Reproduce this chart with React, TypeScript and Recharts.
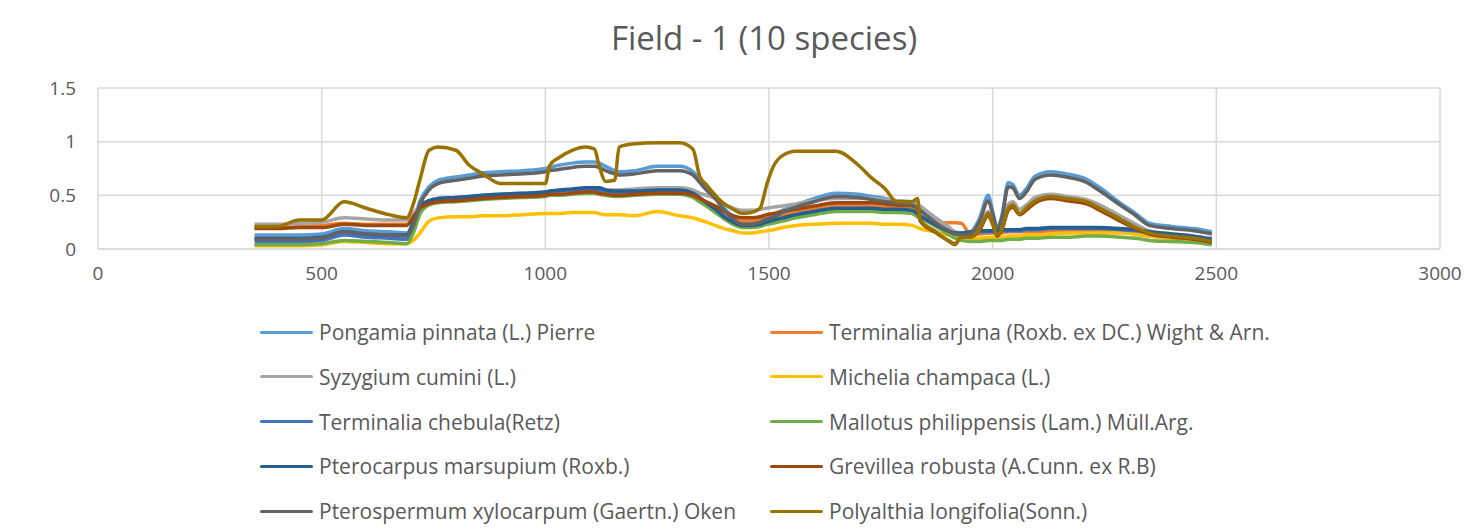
import { LineChart, Line, XAxis, YAxis, CartesianGrid } from 'recharts';

// wavelength (nm)
const wavelength = [
  350, 400, 450, 500, 550, 600, 650, 690, 705, 720, 740, 760, 800, 830, 860, 900, 950, 1000, 1010, 1030,
  1060, 1090, 1110, 1120, 1135, 1155, 1165, 1200, 1250, 1300, 1330, 1345, 1360, 1380, 1400, 1420, 1440, 1460, 1480, 1495,
  1510, 1530, 1560, 1600, 1650, 1700, 1730, 1760, 1785, 1820, 1832, 1838, 1870, 1900, 1916, 1930, 1950, 1970, 1990, 2000,
  2010, 2020, 2035, 2045, 2060, 2075, 2095, 2130, 2165, 2210, 2240, 2285, 2320, 2350, 2400, 2450, 2490,
];

const pongamia = [
  0.13, 0.13, 0.13, 0.14, 0.19, 0.17, 0.16, 0.15, 0.25, 0.45, 0.58, 0.64, 0.67, 0.69, 0.71, 0.72, 0.73, 0.75, 0.76, 0.78,
  0.8, 0.81, 0.81, 0.8, 0.77, 0.73, 0.72, 0.73, 0.77, 0.77, 0.72, 0.65, 0.58, 0.5, 0.38, 0.3, 0.25, 0.25, 0.27, 0.3,
  0.32, 0.36, 0.41, 0.47, 0.52, 0.51, 0.49, 0.47, 0.45, 0.43, 0.4, 0.38, 0.27, 0.19, 0.16, 0.15, 0.16, 0.28, 0.5, 0.35,
  0.2, 0.3, 0.62, 0.6, 0.5, 0.56, 0.68, 0.72, 0.7, 0.65, 0.57, 0.43, 0.33, 0.24, 0.21, 0.19, 0.16,
];
const arjuna = [
  0.2, 0.2, 0.21, 0.22, 0.24, 0.23, 0.23, 0.23, 0.31, 0.4, 0.44, 0.46, 0.47, 0.48, 0.49, 0.5, 0.51, 0.52, 0.53, 0.54,
  0.55, 0.55, 0.55, 0.55, 0.53, 0.52, 0.52, 0.53, 0.54, 0.54, 0.51, 0.47, 0.43, 0.38, 0.32, 0.28, 0.26, 0.26, 0.27, 0.29,
  0.3, 0.32, 0.35, 0.38, 0.41, 0.41, 0.4, 0.39, 0.38, 0.37, 0.35, 0.3, 0.25, 0.245, 0.245, 0.24, 0.14, 0.14, 0.15, 0.15,
  0.15, 0.15, 0.16, 0.16, 0.16, 0.16, 0.16, 0.17, 0.17, 0.17, 0.17, 0.16, 0.14, 0.12, 0.1, 0.09, 0.07,
];
const syzygium = [
  0.23, 0.23, 0.24, 0.25, 0.29, 0.28, 0.27, 0.27, 0.33, 0.41, 0.45, 0.47, 0.48, 0.49, 0.5, 0.51, 0.52, 0.53, 0.54, 0.54,
  0.55, 0.56, 0.56, 0.56, 0.55, 0.55, 0.55, 0.56, 0.57, 0.57, 0.55, 0.52, 0.5, 0.47, 0.42, 0.38, 0.36, 0.36, 0.37, 0.38,
  0.39, 0.4, 0.42, 0.45, 0.47, 0.47, 0.47, 0.46, 0.45, 0.44, 0.42, 0.4, 0.3, 0.21, 0.16, 0.15, 0.15, 0.2, 0.35, 0.27,
  0.16, 0.22, 0.42, 0.44, 0.37, 0.41, 0.48, 0.51, 0.49, 0.46, 0.41, 0.31, 0.23, 0.17, 0.14, 0.12, 0.1,
];
const michelia = [
  0.03, 0.03, 0.03, 0.04, 0.07, 0.06, 0.05, 0.05, 0.08, 0.15, 0.26, 0.29, 0.3, 0.3, 0.31, 0.31, 0.32, 0.33, 0.33, 0.33,
  0.34, 0.34, 0.34, 0.33, 0.32, 0.32, 0.32, 0.31, 0.35, 0.31, 0.29, 0.27, 0.25, 0.22, 0.19, 0.17, 0.15, 0.15, 0.16, 0.17,
  0.18, 0.2, 0.22, 0.23, 0.24, 0.24, 0.24, 0.23, 0.23, 0.22, 0.2, 0.19, 0.16, 0.13, 0.12, 0.11, 0.1, 0.1, 0.11, 0.11,
  0.11, 0.11, 0.12, 0.12, 0.12, 0.13, 0.13, 0.14, 0.15, 0.15, 0.15, 0.15, 0.14, 0.12, 0.1, 0.08, 0.06,
];
const chebula = [
  0.07, 0.07, 0.07, 0.08, 0.13, 0.11, 0.1, 0.09, 0.2, 0.38, 0.44, 0.46, 0.47, 0.48, 0.49, 0.5, 0.51, 0.52, 0.53, 0.54,
  0.55, 0.56, 0.56, 0.55, 0.54, 0.53, 0.53, 0.53, 0.54, 0.54, 0.51, 0.47, 0.42, 0.36, 0.29, 0.24, 0.21, 0.21, 0.22, 0.24,
  0.26, 0.28, 0.31, 0.34, 0.37, 0.37, 0.37, 0.36, 0.36, 0.35, 0.32, 0.3, 0.22, 0.16, 0.14, 0.14, 0.15, 0.16, 0.16, 0.16,
  0.16, 0.17, 0.17, 0.17, 0.17, 0.18, 0.18, 0.19, 0.19, 0.19, 0.19, 0.18, 0.17, 0.15, 0.13, 0.11, 0.08,
];
const mallotus = [
  0.04, 0.04, 0.04, 0.05, 0.08, 0.07, 0.06, 0.05, 0.15, 0.33, 0.41, 0.43, 0.44, 0.45, 0.46, 0.47, 0.48, 0.49, 0.5, 0.5,
  0.51, 0.52, 0.52, 0.51, 0.5, 0.49, 0.49, 0.5, 0.51, 0.51, 0.48, 0.44, 0.4, 0.34, 0.28, 0.23, 0.2, 0.2, 0.21, 0.23,
  0.24, 0.26, 0.29, 0.32, 0.35, 0.35, 0.35, 0.34, 0.34, 0.33, 0.3, 0.29, 0.22, 0.14, 0.1, 0.08, 0.07, 0.07, 0.08, 0.08,
  0.08, 0.08, 0.09, 0.09, 0.09, 0.1, 0.1, 0.11, 0.11, 0.12, 0.12, 0.11, 0.1, 0.08, 0.07, 0.06, 0.04,
];
const pterocarpus = [
  0.1, 0.1, 0.1, 0.11, 0.16, 0.14, 0.13, 0.13, 0.25, 0.4, 0.45, 0.47, 0.48, 0.49, 0.5, 0.51, 0.52, 0.53, 0.54, 0.55,
  0.56, 0.57, 0.57, 0.57, 0.55, 0.54, 0.54, 0.54, 0.55, 0.55, 0.52, 0.48, 0.43, 0.37, 0.3, 0.25, 0.22, 0.22, 0.23, 0.25,
  0.27, 0.29, 0.32, 0.35, 0.38, 0.38, 0.38, 0.37, 0.37, 0.36, 0.33, 0.31, 0.23, 0.17, 0.15, 0.15, 0.16, 0.17, 0.17, 0.17,
  0.17, 0.18, 0.18, 0.18, 0.18, 0.19, 0.19, 0.2, 0.2, 0.2, 0.2, 0.19, 0.18, 0.16, 0.14, 0.12, 0.09,
];
const grevillea = [
  0.19, 0.19, 0.2, 0.2, 0.23, 0.22, 0.22, 0.22, 0.3, 0.38, 0.42, 0.44, 0.45, 0.46, 0.47, 0.48, 0.49, 0.5, 0.51, 0.51,
  0.52, 0.53, 0.53, 0.52, 0.51, 0.5, 0.5, 0.51, 0.52, 0.52, 0.5, 0.47, 0.44, 0.4, 0.35, 0.31, 0.29, 0.29, 0.3, 0.32,
  0.33, 0.35, 0.37, 0.4, 0.43, 0.43, 0.43, 0.42, 0.41, 0.4, 0.38, 0.26, 0.16, 0.08, 0.05, 0.11, 0.11, 0.17, 0.31, 0.23,
  0.12, 0.17, 0.36, 0.39, 0.32, 0.36, 0.43, 0.47, 0.45, 0.42, 0.36, 0.26, 0.19, 0.14, 0.11, 0.09, 0.06,
];
const pterospermum = [
  0.09, 0.09, 0.09, 0.1, 0.16, 0.14, 0.13, 0.12, 0.22, 0.42, 0.55, 0.61, 0.64, 0.66, 0.68, 0.69, 0.7, 0.72, 0.73, 0.74,
  0.76, 0.77, 0.77, 0.76, 0.73, 0.7, 0.69, 0.7, 0.73, 0.73, 0.69, 0.62, 0.55, 0.47, 0.36, 0.28, 0.23, 0.23, 0.25, 0.28,
  0.3, 0.34, 0.39, 0.44, 0.49, 0.48, 0.46, 0.44, 0.43, 0.41, 0.38, 0.36, 0.25, 0.17, 0.14, 0.13, 0.14, 0.25, 0.45, 0.33,
  0.19, 0.28, 0.58, 0.57, 0.47, 0.53, 0.65, 0.69, 0.67, 0.62, 0.54, 0.41, 0.31, 0.22, 0.19, 0.17, 0.14,
];
const polyalthia = [
  0.21, 0.21, 0.27, 0.27, 0.44, 0.38, 0.32, 0.29, 0.42, 0.65, 0.92, 0.95, 0.92, 0.78, 0.7, 0.61, 0.61, 0.61, 0.78, 0.85,
  0.92, 0.95, 0.93, 0.78, 0.63, 0.64, 0.95, 0.98, 0.99, 0.99, 0.93, 0.68, 0.6, 0.5, 0.42, 0.37, 0.33, 0.34, 0.38, 0.6,
  0.77, 0.87, 0.91, 0.91, 0.91, 0.78, 0.66, 0.56, 0.44, 0.44, 0.47, 0.27, 0.17, 0.08, 0.04, 0.11, 0.11, 0.18, 0.33, 0.24,
  0.13, 0.18, 0.38, 0.41, 0.33, 0.38, 0.45, 0.49, 0.47, 0.44, 0.38, 0.28, 0.2, 0.15, 0.12, 0.1, 0.07,
];

const xTicks = [0, 500, 1000, 1500, 2000, 2500, 3000];
const yTicks = [0, 0.5, 1, 1.5];

const series = [
  { key: 'pongamia', name: 'Pongamia pinnata (L.) Pierre', color: '#5B9BD5', values: pongamia },
  { key: 'arjuna', name: 'Terminalia arjuna (Roxb. ex DC.) Wight & Arn.', color: '#ED7D31', values: arjuna },
  { key: 'syzygium', name: 'Syzygium cumini (L.)', color: '#A5A5A5', values: syzygium },
  { key: 'michelia', name: 'Michelia champaca (L.)', color: '#FFC000', values: michelia },
  { key: 'chebula', name: 'Terminalia chebula(Retz)', color: '#4472C4', values: chebula },
  { key: 'mallotus', name: 'Mallotus philippensis (Lam.) Müll.Arg.', color: '#70AD47', values: mallotus },
  { key: 'pterocarpus', name: 'Pterocarpus marsupium (Roxb.)', color: '#255E91', values: pterocarpus },
  { key: 'grevillea', name: 'Grevillea robusta (A.Cunn. ex R.B)', color: '#9E480E', values: grevillea },
  { key: 'pterospermum', name: 'Pterospermum xylocarpum (Gaertn.) Oken', color: '#636363', values: pterospermum },
  { key: 'polyalthia', name: 'Polyalthia longifolia(Sonn.)', color: '#997300', values: polyalthia },
];

const data = wavelength.map((x, i) => {
  const row: Record<string, number> = { x };
  series.forEach((s) => (row[s.key] = s.values[i]));
  return row;
});

const FONT = '"Open Sans", Lato, sans-serif';
const TXT = '#595959';

export default function App() {
  return (
    <div style={{ position: 'absolute', left: 0, top: 0, width: 1481, height: 530, background: '#fff', fontFamily: FONT }}>
      <div style={{ position: 'absolute', left: 0, top: 15, width: 1528, textAlign: 'center', fontSize: 33, lineHeight: '46px', color: TXT }}>
        Field - 1 (10 species)
      </div>
      <LineChart width={1481} height={530} data={data} margin={{ top: 88, right: 41, bottom: 251, left: 0 }}>
        <CartesianGrid stroke="#d9d9d9" strokeWidth={1.5} />
        <XAxis
          dataKey="x"
          type="number"
          domain={[0, 3000]}
          ticks={xTicks}
          height={30}
          stroke="#d9d9d9"
          strokeWidth={1.5}
          tickLine={false}
          tickMargin={12}
          tick={{ fill: TXT, fontSize: 19, fontFamily: FONT }}
        />
        <YAxis
          domain={[0, 1.5]}
          ticks={yTicks}
          width={98}
          axisLine={false}
          tickLine={false}
          tickMargin={16}
          tick={{ fill: TXT, fontSize: 19, fontFamily: FONT }}
        />
        {series.map((s) => (
          <Line
            key={s.key}
            dataKey={s.key}
            name={s.name}
            stroke={s.color}
            strokeWidth={3.5}
            dot={false}
            type="monotone"
            isAnimationActive={false}
          />
        ))}
      </LineChart>
      {series.map((s, i) => {
        const col = i % 2;
        const row = Math.floor(i / 2);
        const left = col === 0 ? 260 : 770;
        const top = 332 + row * 44.8;
        return (
          <div key={s.key} style={{ position: 'absolute', left, top: top - 15, height: 30, display: 'flex', alignItems: 'center', whiteSpace: 'nowrap' }}>
            <div style={{ width: 53, height: 3, background: s.color, borderRadius: 2 }} />
            <span style={{ marginLeft: 6, fontSize: 21, lineHeight: '30px', color: TXT }}>{s.name}</span>
          </div>
        );
      })}
    </div>
  );
}
